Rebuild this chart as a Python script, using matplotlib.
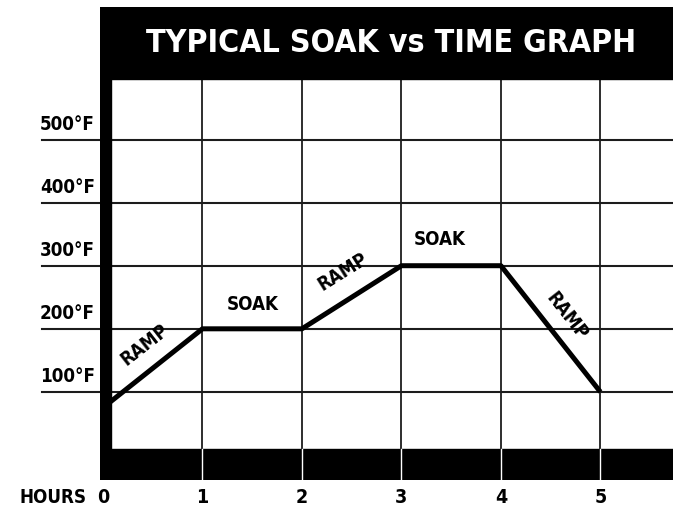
import matplotlib
matplotlib.use("Agg")
import matplotlib.pyplot as plt
from matplotlib import font_manager
from matplotlib.patches import Rectangle

# look for a narrow/condensed bold face among the installed fonts
fonte = None
for f in font_manager.fontManager.ttflist:
    nome = (f.name + " " + f.fname).lower()
    if ("condensed" in nome or "narrow" in nome) and f.weight in ("bold", 700, "heavy", 800, 900):
        fonte = f.fname
        break

if fonte:
    fp = lambda s: font_manager.FontProperties(fname=fonte, size=s)
    esc = 1.0
else:
    fp = lambda s: font_manager.FontProperties(family="DejaVu Sans", weight="bold",
                                               stretch="condensed", size=s)
    esc = 0.85

# data
horas = [0, 1, 2, 3, 4, 5]
temp = [75, 200, 200, 300, 300, 100]
niveis = [100, 200, 300, 400, 500]
rotulos_y = ["100°F", "200°F", "300°F", "400°F", "500°F"]
rotulos_x = ["0", "1", "2", "3", "4", "5"]
titulo = "TYPICAL SOAK vs TIME GRAPH"

# labels on segments: text, x, y, angle
etiquetas = [
    ("RAMP", 0.42, 174, 38),
    ("SOAK", 1.51, 238, 0),
    ("RAMP", 2.41, 290, 32),
    ("SOAK", 3.39, 341, 0),
    ("RAMP", 4.66, 220, -52),
]

fig = plt.figure(figsize=(6.73, 5.11), dpi=100)
fig.patch.set_facecolor("white")
ax = fig.add_axes([100 / 673, 1 - 480 / 511, 573 / 673, 473 / 511])
xmin, xmax = -0.03, 5.73
ymin, ymax = -39.6, 710
ax.set_xlim(xmin, xmax)
ax.set_ylim(ymin, ymax)
ax.axis("off")

cor_grade = "#1c1c1c"

# grid
for y in niveis:
    ax.plot([-0.61, xmax], [y, y], color=cor_grade, lw=1.5, clip_on=False, zorder=1)
for x in horas[1:]:
    ax.plot([x, x], [0, 600], color=cor_grade, lw=1.3, zorder=1)

# header, left bar, bottom bar
ax.add_patch(Rectangle((xmin, 596), xmax - xmin, ymax - 596, color="black", zorder=3))
ax.add_patch(Rectangle((xmin, ymin), 0.11, ymax - ymin, color="black", zorder=3))
ax.add_patch(Rectangle((xmin, ymin), xmax - xmin, 9.5 - ymin, color="black", zorder=3))
for x in horas[1:]:
    ax.plot([x, x], [ymin, 9.5], color="white", lw=1.0, zorder=4)

# curve
ax.plot(horas, temp, color="black", lw=3.6, solid_capstyle="butt", zorder=2)

for txt, x, y, ang in etiquetas:
    ax.text(x, y, txt, fontproperties=fp(13.5 * esc), rotation=ang, ha="center",
            va="center", rotation_mode="anchor", zorder=5)

# title
ax.text(2.9, 652, titulo, color="white", fontproperties=fp(23 * esc),
        ha="center", va="center", zorder=5)

# y labels
for y, lab in zip(niveis, rotulos_y):
    ax.text(-0.08, y + 9, lab, fontproperties=fp(13.5 * esc), ha="right", va="bottom",
            clip_on=False)

# x labels
for x, lab in zip(horas, rotulos_x):
    ax.text(x, -67, lab, fontproperties=fp(14 * esc), ha="center", va="center",
            clip_on=False)
ax.text(-0.17, -67, "HOURS", fontproperties=fp(13.5 * esc), ha="right", va="center",
        clip_on=False)

fig.savefig("out.png", dpi=100)
